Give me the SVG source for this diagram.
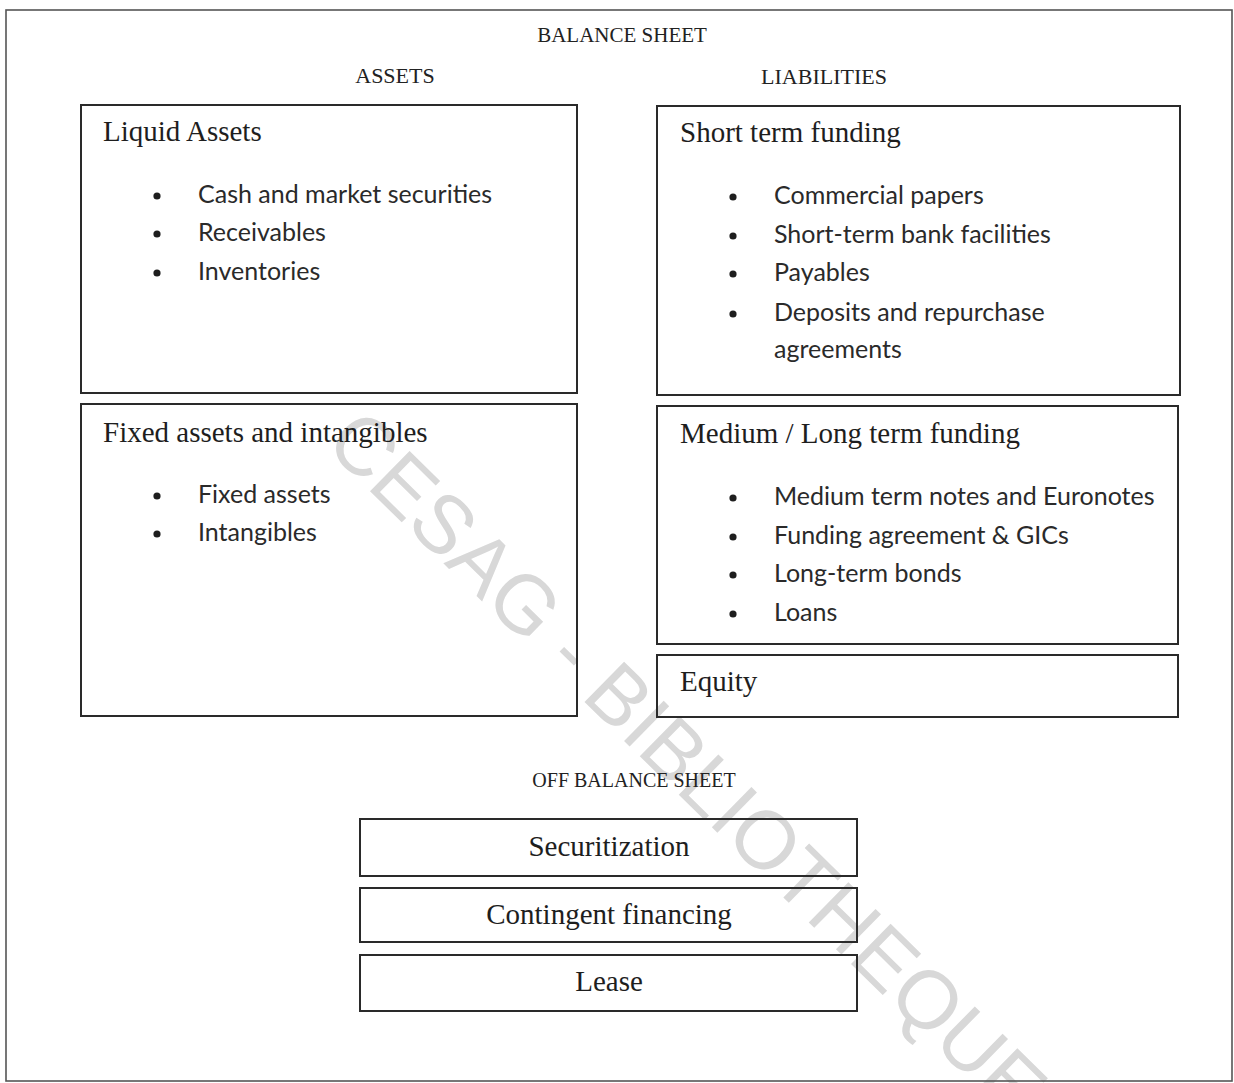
<svg xmlns="http://www.w3.org/2000/svg" width="1234" height="1083" viewBox="0 0 1234 1083">
  <style>
    .frame { fill: none; stroke: #555; stroke-width: 1.6; }
    .box { fill: none; stroke: #2a2a2a; stroke-width: 2; }
    .head { font-family: "Liberation Serif", "Times New Roman", serif; fill: #222; }
    .title { font-family: "Liberation Serif", "Times New Roman", serif; font-size: 29px; fill: #1e1e1e; }
    .item { font-family: Lato, "Liberation Sans", sans-serif; font-size: 25px; fill: #2a2a2a; }
    .dot { fill: #1e1e1e; }
    .mark { font-family: "Liberation Sans", Arial, sans-serif; font-size: 82px; fill: #d8d8d8; }
  </style>

  <rect x="0" y="0" width="1234" height="1083" fill="#fff"/>

  <!-- library watermark, under everything else -->
  <text class="mark" transform="translate(323,445) rotate(44.5)">CESAG - BIBLIOTHEQUE</text>

  <!-- outer frame -->
  <rect class="frame" x="6" y="10" width="1226" height="1071"/>

  <!-- section headings -->
  <g id="headings">
    <text class="head" x="622" y="42" font-size="21" text-anchor="middle">BALANCE SHEET</text>
    <text class="head" x="395" y="83" font-size="22" text-anchor="middle">ASSETS</text>
    <text class="head" x="824" y="84" font-size="22" text-anchor="middle">LIABILITIES</text>
    <text class="head" x="634" y="787" font-size="20" text-anchor="middle">OFF BALANCE SHEET</text>
  </g>

  <!-- assets side -->
  <g id="liquid-assets">
    <rect class="box" x="81" y="105" width="496" height="288"/>
    <text class="title" x="103" y="141">Liquid Assets</text>
    <circle class="dot" cx="157" cy="196" r="3.6"/>
    <text class="item" x="198" y="203">Cash and market securities</text>
    <circle class="dot" cx="157" cy="234" r="3.6"/>
    <text class="item" x="198" y="241">Receivables</text>
    <circle class="dot" cx="157" cy="273" r="3.6"/>
    <text class="item" x="198" y="280">Inventories</text>
  </g>

  <g id="fixed-assets">
    <rect class="box" x="81" y="404" width="496" height="312"/>
    <text class="title" x="103" y="442">Fixed assets and intangibles</text>
    <circle class="dot" cx="157" cy="496" r="3.6"/>
    <text class="item" x="198" y="503">Fixed assets</text>
    <circle class="dot" cx="157" cy="534" r="3.6"/>
    <text class="item" x="198" y="541">Intangibles</text>
  </g>

  <!-- liabilities side -->
  <g id="short-term-funding">
    <rect class="box" x="657" y="106" width="523" height="289"/>
    <text class="title" x="680" y="142">Short term funding</text>
    <circle class="dot" cx="733" cy="197" r="3.6"/>
    <text class="item" x="774" y="204">Commercial papers</text>
    <circle class="dot" cx="733" cy="236" r="3.6"/>
    <text class="item" x="774" y="243">Short-term bank facilities</text>
    <circle class="dot" cx="733" cy="274" r="3.6"/>
    <text class="item" x="774" y="281">Payables</text>
    <circle class="dot" cx="733" cy="314" r="3.6"/>
    <text class="item" x="774" y="321">Deposits and repurchase</text>
    <text class="item" x="774" y="358">agreements</text>
  </g>

  <g id="medium-long-term-funding">
    <rect class="box" x="657" y="406" width="521" height="238"/>
    <text class="title" x="680" y="443">Medium / Long term funding</text>
    <circle class="dot" cx="733" cy="498" r="3.6"/>
    <text class="item" x="774" y="505">Medium term notes and Euronotes</text>
    <circle class="dot" cx="733" cy="537" r="3.6"/>
    <text class="item" x="774" y="544">Funding agreement &amp; GICs</text>
    <circle class="dot" cx="733" cy="575" r="3.6"/>
    <text class="item" x="774" y="582">Long-term bonds</text>
    <circle class="dot" cx="733" cy="614" r="3.6"/>
    <text class="item" x="774" y="621">Loans</text>
  </g>

  <g id="equity">
    <rect class="box" x="657" y="655" width="521" height="62"/>
    <text class="title" x="680" y="691">Equity</text>
  </g>

  <!-- off balance sheet items -->
  <g id="securitization">
    <rect class="box" x="360" y="819" width="497" height="57"/>
    <text class="title" x="609" y="856" text-anchor="middle">Securitization</text>
  </g>
  <g id="contingent-financing">
    <rect class="box" x="360" y="888" width="497" height="54"/>
    <text class="title" x="609" y="924" text-anchor="middle">Contingent financing</text>
  </g>
  <g id="lease">
    <rect class="box" x="360" y="955" width="497" height="56"/>
    <text class="title" x="609" y="991" text-anchor="middle">Lease</text>
  </g>

  <g id="connectors"/>
</svg>
